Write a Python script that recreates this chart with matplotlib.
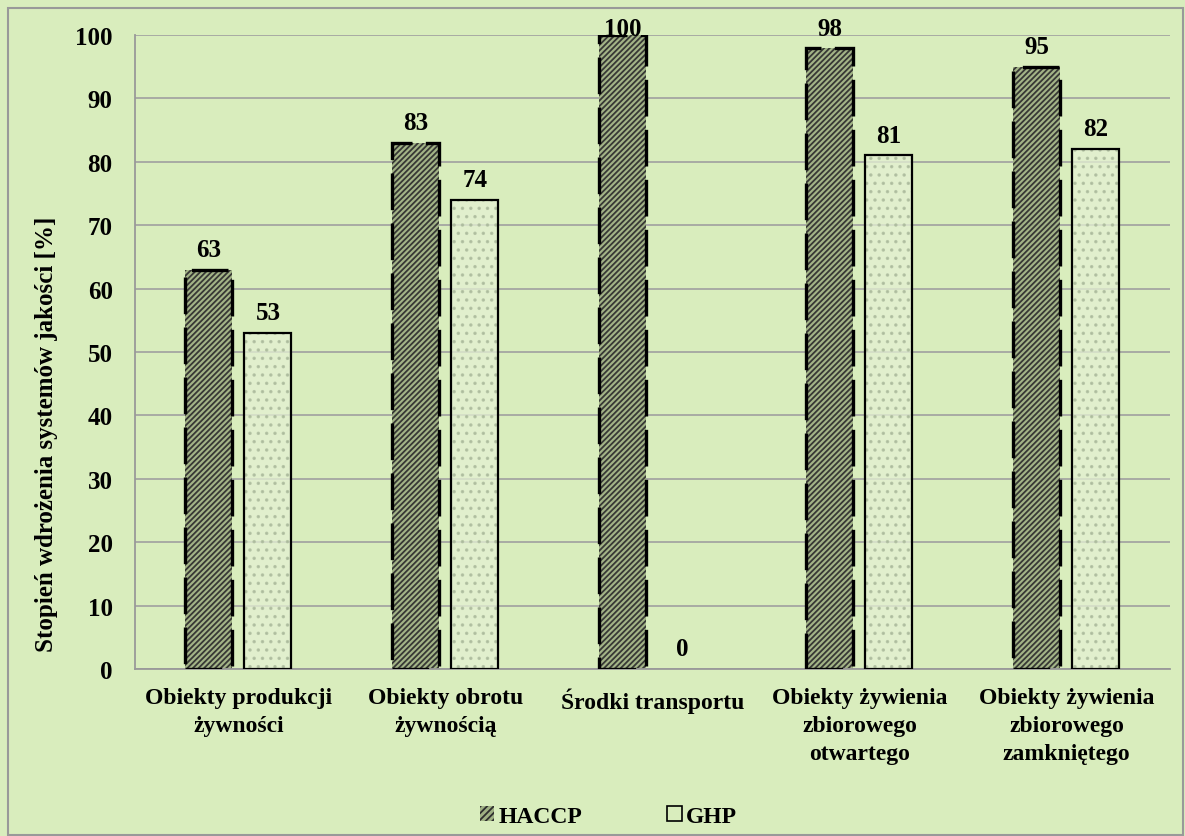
import matplotlib
matplotlib.use('Agg')
import matplotlib.pyplot as plt
import matplotlib.patches as patches
import numpy as np

#------------------------------
kategorie = ['Obiekty produkcji\nżywności', 'Obiekty obrotu\nżywnością',
             'Środki transportu', 'Obiekty żywienia\nzbiorowego\notwartego',
             'Obiekty żywienia\nzbiorowego\nzamkniętego']
haccp = [63, 83, 100, 98, 95]
ghp = [53, 74, 0, 81, 82]
yticks = list(range(0, 101, 10))
ylabel = 'Stopień wdrożenia systemów jakości [%]'
#------------------------------

plt.rcParams['font.family'] = ['Liberation Serif', 'DejaVu Serif']
plt.rcParams['font.weight'] = 'bold'
plt.rcParams['hatch.linewidth'] = 1.3

tlo = '#d9edbd'
fig = plt.figure(figsize=(11.85, 8.37), dpi=100, facecolor=tlo)
ax = fig.add_axes([0.1139, 0.1995, 0.8734, 0.7575])
ax.set_facecolor(tlo)

x = np.arange(len(kategorie))
w = 0.227
off = 0.1425

# HACCP: ukosne kreskowanie + przerywana ramka
ax.bar(x - off, haccp, w, color='#9fb083', edgecolor='#2e2e2e', hatch='//////',
       linewidth=0, zorder=2, alpha=0.92)
ax.bar(x - off, haccp, w, fill=False, edgecolor='black', linewidth=2.4,
       linestyle=(0, (11, 4)), zorder=3)
# GHP: kropki + pelna ramka
ax.bar(x + off, ghp, w, color='#e4f1d3', edgecolor='#a9b89a', hatch='..',
       linewidth=0, zorder=2, alpha=0.75)
ax.bar(x + off, [v if v > 0 else np.nan for v in ghp], w, fill=False,
       edgecolor='black', linewidth=1.6, zorder=3)

# etykiety wartosci - nie wychodza ponad gorna krawedz osi
px_na_jedn = 634 / 100.0
for xs, vals in [(x - off, haccp), (x + off, ghp)]:
    for xi, v in zip(xs, vals):
        dy = min(10, (100 - v) * px_na_jedn * 0.72)
        ax.annotate('%d' % v, (xi, v), xytext=(0, dy), textcoords='offset points',
                    ha='center', va='baseline', fontsize=18, fontweight='bold')

ax.set_xlim(-0.5, len(kategorie) - 0.5)
ax.set_ylim(0, 100)
ax.set_yticks(yticks)
ax.set_xticks(x)
ax.set_xticklabels(kategorie, fontsize=17, fontweight='bold', linespacing=1.42)
ax.tick_params(axis='both', length=0)
ax.tick_params(axis='y', pad=16, labelsize=18)
ax.tick_params(axis='x', pad=13)
for lab in ax.get_yticklabels():
    lab.set_fontweight('bold')

ax.grid(axis='y', color='#a0a0a0', linewidth=1.2, zorder=0)
ax.set_axisbelow(True)
for s in ['top', 'right']:
    ax.spines[s].set_visible(False)
for s in ['left', 'bottom']:
    ax.spines[s].set_color('#999999')
    ax.spines[s].set_linewidth(1.3)

ax.set_ylabel(ylabel, fontsize=18, fontweight='bold')
ax.yaxis.set_label_coords(-0.074, 0.372)

h1 = patches.Patch(facecolor='#9fb083', edgecolor='#2e2e2e', hatch='/////',
                   linewidth=0)
h2 = patches.Patch(facecolor=tlo, edgecolor='black', linewidth=1.2)
fig.legend([h1, h2], ['HACCP', 'GHP'], loc='center',
           bbox_to_anchor=(0.5135, 0.023), ncol=2, frameon=False, fontsize=17,
           handlelength=0.6, handleheight=0.6, handletextpad=0.2,
           columnspacing=3.6)

# ramka wokol calego wykresu
fig.patches.append(patches.Rectangle((8 / 1185, 0.001), 1175 / 1185, 827 / 837,
                                     transform=fig.transFigure, fill=False,
                                     edgecolor='#999999', linewidth=1.5))

fig.savefig('out.png', dpi=100, facecolor=tlo)
